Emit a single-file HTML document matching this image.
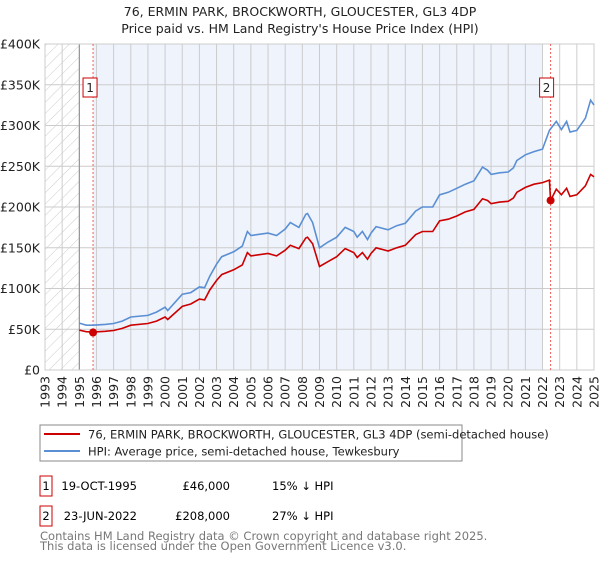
<!DOCTYPE html>
<html><head><meta charset="utf-8"><style>
body{margin:0;background:#fff;font-family:"Liberation Sans","DejaVu Sans",sans-serif;}
svg text{font-family:"DejaVu Sans","Liberation Sans",sans-serif;}
</style></head><body>
<svg id="c" width="600" height="560" viewBox="0 0 600 560" xmlns="http://www.w3.org/2000/svg">
<defs><pattern id="hatch" width="8" height="8" patternUnits="userSpaceOnUse" patternTransform="rotate(45)"><line x1="0" y1="0" x2="0" y2="8" stroke="#ccc" stroke-width="1"/></pattern></defs>
<text x="300" y="16" text-anchor="middle" font-size="12.5" fill="#222">76, ERMIN PARK, BROCKWORTH, GLOUCESTER, GL3 4DP</text>
<text x="300" y="33" text-anchor="middle" font-size="12.5" fill="#222">Price paid vs. HM Land Registry's House Price Index (HPI)</text>
<g id="plot"></g>
<rect x="40" y="425" width="422" height="36" fill="#fff" stroke="#888"/>
<line x1="44" y1="434" x2="80" y2="434" stroke="#cc0000" stroke-width="2"/>
<text x="88" y="438.5" font-size="11.5" fill="#222">76, ERMIN PARK, BROCKWORTH, GLOUCESTER, GL3 4DP (semi-detached house)</text>
<line x1="44" y1="451" x2="80" y2="451" stroke="#5b8fd4" stroke-width="2"/>
<text x="88" y="455.5" font-size="11.5" fill="#222">HPI: Average price, semi-detached house, Tewkesbury</text>
<g>
<rect x="40" y="476" width="12" height="20" fill="#fff" stroke="#cc0000"/>
<text x="46" y="490" text-anchor="middle" font-size="11.5">1</text>
<text x="137" y="490" text-anchor="end" font-size="11.5">19-OCT-1995</text>
<text x="230" y="490" text-anchor="end" font-size="11.5">£46,000</text>
<text x="272" y="490" font-size="11.5">15% ↓ HPI</text></g>
<g>
<rect x="40" y="506" width="12" height="20" fill="#fff" stroke="#cc0000"/>
<text x="46" y="520" text-anchor="middle" font-size="11.5">2</text>
<text x="137" y="520" text-anchor="end" font-size="11.5">23-JUN-2022</text>
<text x="230" y="520" text-anchor="end" font-size="11.5">£208,000</text>
<text x="272" y="520" font-size="11.5">27% ↓ HPI</text></g>
<text x="40" y="540" font-size="11.5" fill="#777">Contains HM Land Registry data © Crown copyright and database right 2025.</text>
<text x="40" y="550" font-size="11.5" fill="#777">This data is licensed under the Open Government Licence v3.0.</text>
</svg>
<script>
const yTicks=[0,50000,100000,150000,200000,250000,300000,350000,400000];
const yTickLabels=["£0","£50K","£100K","£150K","£200K","£250K","£300K","£350K","£400K"];
const years=[1993,1994,1995,1996,1997,1998,1999,2000,2001,2002,2003,2004,2005,2006,2007,2008,2009,2010,2011,2012,2013,2014,2015,2016,2017,2018,2019,2020,2021,2022,2023,2024,2025];
const hpiDates=[1995,1995.4,1995.8,1996.5,1997,1997.5,1998,1999,1999.5,2000,2000.15,2001,2001.5,2002,2002.3,2002.6,2003,2003.3,2004,2004.5,2004.8,2005,2006,2006.5,2007,2007.3,2007.8,2008.2,2008.3,2008.6,2009,2009.5,2010,2010.5,2011,2011.2,2011.5,2011.8,2012,2012.3,2013,2013.5,2014,2014.6,2015,2015.6,2016,2016.5,2017,2017.5,2018,2018.5,2018.8,2019,2019.5,2020,2020.3,2020.5,2021,2021.5,2022,2022.4,2022.8,2023.1,2023.4,2023.6,2024,2024.5,2024.8,2025];
const hpiValues=[57500,55000,55000,56000,57000,60000,65000,67000,71000,77000,73000,93000,95000,102000,101000,115000,130000,139000,145000,152000,170000,165000,168000,165000,173000,181000,175000,191000,192000,181000,150000,157000,163000,175000,170000,163000,170000,160000,168000,176000,172000,177000,180000,195000,200000,200000,215000,218000,223000,228000,232000,249000,245000,240000,242000,243000,248000,257000,264000,268000,271000,294000,305000,295000,305000,292000,294000,309000,331000,325000];
const priceDates=[1995,1995.4,1995.8,1996.5,1997,1997.5,1998,1999,1999.5,2000,2000.15,2001,2001.5,2002,2002.3,2002.6,2003,2003.3,2004,2004.5,2004.8,2005,2006,2006.5,2007,2007.3,2007.8,2008.2,2008.3,2008.6,2009,2009.5,2010,2010.5,2011,2011.2,2011.5,2011.8,2012,2012.3,2013,2013.5,2014,2014.6,2015,2015.6,2016,2016.5,2017,2017.5,2018,2018.5,2018.8,2019,2019.5,2020,2020.3,2020.5,2021,2021.5,2022,2022.4,2022.47,2022.8,2023.1,2023.4,2023.6,2024,2024.5,2024.8,2025];
const priceValues=[49000,47000,46500,47500,48500,51000,55000,57000,60000,65000,62000,78000,81000,87000,86000,98000,110000,117000,123000,129000,144000,140000,143000,140000,147000,153000,149000,162000,163000,155000,127000,133000,139000,149000,144000,138000,144000,136000,143000,150000,146000,150000,153000,166000,170000,170000,183000,185000,189000,194000,197000,210000,208000,204000,206000,207000,211000,218000,224000,228000,230000,233000,208000,222000,215000,223000,213000,215000,226000,240000,237000];
const saleDates=[1995.8,2022.47];
const salePrices=[46000,208000];
const saleLabels=["1","2"];

const NS="http://www.w3.org/2000/svg";
const X0=45,X1=594,Y0=370,Y1=44,XMIN=1993,XMAX=2025,YMAX=400000;
const sx=v=>X0+(v-XMIN)/(XMAX-XMIN)*(X1-X0);
const sy=v=>Y0-v/YMAX*(Y0-Y1);
const g=document.getElementById('plot');
function mk(t,a){const e=document.createElementNS(NS,t);for(const k in a)e.setAttribute(k,a[k]);g.appendChild(e);return e;}
let e;
e=mk('rect',{x:X0,y:Y1,width:X1-X0,height:Y0-Y1,fill:'#fff'});


e=mk('rect',{x:sx(1993),y:Y1,width:sx(1995)-sx(1993),height:Y0-Y1,fill:'url(#hatch)'});


e=mk('rect',{x:sx(saleDates[0]),y:Y1,width:sx(2022.0)-sx(saleDates[0]),height:Y0-Y1,fill:'#eef3fc'});


yTicks.forEach((t,i)=>{
 e=mk('line',{x1:X0,x2:X1,y1:sy(t),y2:sy(t),stroke:'#ccc','stroke-width':1});
 
 
 e=mk('text',{x:40,y:sy(t)+4.5,'text-anchor':'end','font-size':12.5,fill:'#222'});e.textContent=yTickLabels[i];
 
 
});
years.forEach(yr=>{
 e=mk('line',{x1:sx(yr),x2:sx(yr),y1:Y1,y2:Y0,stroke:'#ccc','stroke-width':1});
 
 
 e=mk('text',{x:0,y:0,transform:`translate(${sx(yr)+4.5},376) rotate(-90)`,'text-anchor':'end','font-size':12.5,fill:'#222'});e.textContent=yr;
 
 
});
e=mk('line',{x1:sx(1995),x2:sx(1995),y1:Y1,y2:Y0,stroke:'#888'});


e=mk('rect',{x:X0,y:Y1,width:X1-X0,height:Y0-Y1,fill:'none',stroke:'#ccc'});


saleDates.forEach((d,i)=>{
 e=mk('line',{x1:sx(d),x2:sx(d),y1:Y1,y2:Y0,stroke:'#f06060','stroke-dasharray':'2,2'});
 
 
});
const path=(ds,vs)=>ds.map((d,i)=>(i?'L':'M')+sx(d).toFixed(1)+','+sy(vs[i]).toFixed(1)).join('');
e=mk('path',{d:path(hpiDates,hpiValues),fill:'none',stroke:'#5b8fd4','stroke-width':1.6});


e=mk('path',{d:path(priceDates,priceValues),fill:'none',stroke:'#cc0000','stroke-width':1.6});


saleDates.forEach((d,i)=>{
 e=mk('circle',{cx:sx(d),cy:sy(salePrices[i]),r:4,fill:'#cc0000'});
 
 
 const bx=sx(d)-6-(i===0?3:4);
 e=mk('rect',{x:bx-1,y:78,width:14,height:19,fill:'#fff',stroke:'#cc0000'});
 
 
 e=mk('text',{x:bx+6,y:92,'text-anchor':'middle','font-size':12,fill:'#222'});e.textContent=saleLabels[i];
 
 
});
</script>
</body></html>
